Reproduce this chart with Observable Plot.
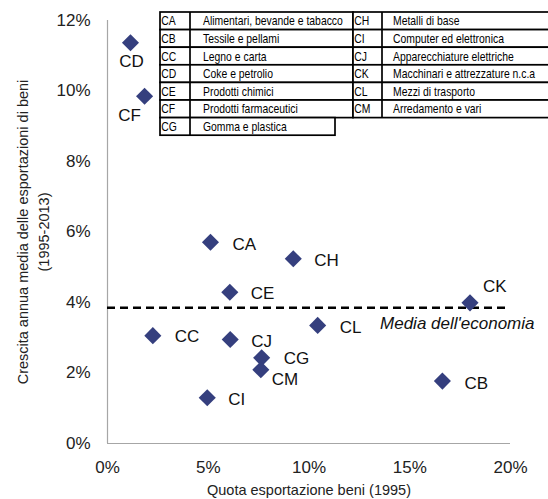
<!DOCTYPE html>
<html>
<head>
<meta charset="utf-8">
<script src="https://cdn.jsdelivr.net/npm/d3@7"></script>
<script src="https://cdn.jsdelivr.net/npm/@observablehq/plot@0.6"></script>
<style>
  html, body { margin: 0; padding: 0; background: #fff; }
  #wrap { position: relative; width: 548px; height: 499px; overflow: hidden; }
  #wrap svg.legend { position: absolute; left: 0; top: 0; pointer-events: none; }
</style>
</head>
<body>
<div id="wrap"></div>
<script>
// ---- data ----
const codes = ["CA","CB","CC","CD","CE","CF","CG","CH","CI","CJ","CK","CL","CM"];
const names = [
  "Alimentari, bevande e tabacco",
  "Tessile e pellami",
  "Legno e carta",
  "Coke e petrolio",
  "Prodotti chimici",
  "Prodotti farmaceutici",
  "Gomma e plastica",
  "Metalli di base",
  "Computer ed elettronica",
  "Apparecchiature elettriche",
  "Macchinari e attrezzature n.c.a",
  "Mezzi di trasporto",
  "Arredamento e vari"
];
// Quota esportazione beni (1995), %
const quota = [5.11, 16.62, 2.25, 1.14, 6.07, 1.84, 7.65, 9.22, 4.95, 6.09, 17.99, 10.43, 7.61];
// Crescita annua media delle esportazioni di beni (1995-2013), %
const crescita = [5.71, 1.77, 3.06, 11.37, 4.29, 9.85, 2.43, 5.24, 1.30, 2.95, 3.99, 3.35, 2.09];
const media = 3.85;
const mediaLabel = "Media dell'economia";
const xTicks = [0, 5, 10, 15, 20];
const yTicks = [0, 2, 4, 6, 8, 10, 12];
const xTitle = "Quota esportazione beni (1995)";
const yTitle = "Crescita annua media delle esportazioni di beni\n(1995-2013)";

// ---- label placement (style only) ----
const labelPos = {
  CA: {dx: 22, dy: 2, anchor: "start"},
  CB: {dx: 22, dy: 2, anchor: "start"},
  CC: {dx: 22, dy: 1, anchor: "start"},
  CD: {dx: 1, dy: 19, anchor: "middle"},
  CE: {dx: 21, dy: 1, anchor: "start"},
  CF: {dx: -15, dy: 19, anchor: "middle"},
  CG: {dx: 22, dy: 1, anchor: "start"},
  CH: {dx: 21, dy: 2, anchor: "start"},
  CI: {dx: 21, dy: 2, anchor: "start"},
  CJ: {dx: 21, dy: 2, anchor: "start"},
  CK: {dx: 13, dy: -16, anchor: "start"},
  CL: {dx: 22, dy: 2, anchor: "start"},
  CM: {dx: 11, dy: 10, anchor: "start"}
};

const idx = codes.map((_, i) => i);
const navy = "#353f7e";
const axisGray = "#a6a6a6";
const fontFam = "'Liberation Sans', Arial, Helvetica, sans-serif";

const labelMarks = idx.map(i => Plot.text([i], {
  x: j => quota[j],
  y: j => crescita[j],
  text: j => codes[j],
  dx: labelPos[codes[i]].dx,
  dy: labelPos[codes[i]].dy,
  textAnchor: labelPos[codes[i]].anchor,
  fontSize: 17,
  fill: "#111"
}));

const chart = Plot.plot({
  width: 548,
  height: 499,
  marginLeft: 107,
  marginRight: 38,
  marginTop: 20,
  marginBottom: 56,
  style: {fontFamily: fontFam, fontSize: "17px", color: "#222", background: "#fff"},
  x: {domain: [0, 20]},
  y: {domain: [0, 12]},
  marks: [
    Plot.axisY({ticks: yTicks, tickFormat: d => d + "%", tickSize: 0, tickPadding: 17, label: null, fontSize: 17}),
    Plot.axisX({ticks: xTicks, tickFormat: d => d + "%", tickSize: 0, tickPadding: 17, label: null, fontSize: 17}),
    Plot.ruleY([0], {stroke: axisGray, strokeWidth: 1.2}),
    Plot.ruleX([0], {stroke: axisGray, strokeWidth: 1.2}),
    Plot.ruleY([media], {stroke: "#000", strokeWidth: 2.5, strokeDasharray: "8,5"}),
    Plot.text([media], {
      x: () => xTicks[xTicks.length - 1], y: d => d, text: () => mediaLabel,
      textAnchor: "end", dx: 24, dy: 16, fontStyle: "italic", fontSize: 17, fill: "#111"
    }),
    Plot.dot(idx, {
      x: i => quota[i], y: i => crescita[i],
      symbol: "diamond2", r: 7.7, fill: navy, stroke: "none"
    }),
    ...labelMarks,
    Plot.text([yTitle], {
      frameAnchor: "left", rotate: -90, dx: -76, textAnchor: "middle",
      lineAnchor: "middle", lineHeight: 1.45, fontSize: 14.5, fill: "#222"
    }),
    Plot.text([xTitle], {
      frameAnchor: "bottom", dy: 47, textAnchor: "middle", lineAnchor: "middle",
      fontSize: 14.5, fill: "#222"
    })
  ]
});
document.getElementById("wrap").appendChild(chart);

// ---- legend table overlay ----
const svg = d3.select("#wrap").append("svg")
  .attr("class", "legend")
  .attr("width", 548).attr("height", 499);

const rowH = 17.6, top0 = 12;
const tables = [
  {rows: idx.slice(0, 7), x0: 160, xc: 190, x1: 353, textPad: 13, lastX1: 335},
  {rows: idx.slice(7), x0: 353, xc: 382, x1: 552, textPad: 11, lastX1: 552}
];
const g = svg.append("g").attr("font-family", fontFam);
tables.forEach(t => {
  t.rows.forEach((ri, k) => {
    const y = top0 + k * rowH;
    const x1 = k === t.rows.length - 1 ? t.lastX1 : t.x1;
    g.append("rect").attr("x", t.x0).attr("y", y).attr("width", x1 - t.x0).attr("height", rowH)
      .attr("fill", "#fff").attr("stroke", "#000").attr("stroke-width", 1.7);
  });
  t.rows.forEach((ri, k) => {
    const y = top0 + k * rowH;
    g.append("line").attr("x1", t.xc).attr("x2", t.xc).attr("y1", y).attr("y2", y + rowH)
      .attr("stroke", "#000").attr("stroke-width", 1.7);
    g.append("text")
      .attr("transform", `translate(${t.x0 + 1.2},${y + rowH / 2 + 4.6}) scale(0.8,1)`)
      .attr("font-size", 13).attr("fill", "#000").text(codes[ri]);
    g.append("text")
      .attr("transform", `translate(${t.xc + t.textPad},${y + rowH / 2 + 4.6}) scale(0.8,1)`)
      .attr("font-size", 13).attr("fill", "#000").text(names[ri]);
  });
});
</script>
</body>
</html>
